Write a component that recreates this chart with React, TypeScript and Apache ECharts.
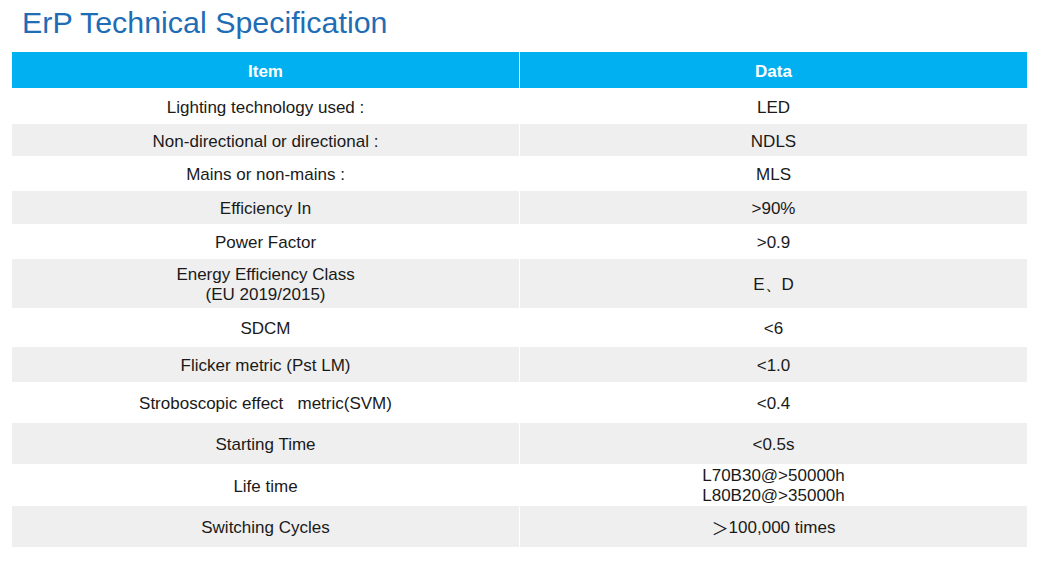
import React, { useEffect, useRef } from "react";
import * as echarts from "echarts";

// ---- data ----
const titleText = "ErP Technical Specification";
const headers = ["Item", "Data"];
const items = [
  "Lighting technology used :",
  "Non-directional or directional :",
  "Mains or non-mains :",
  "Efficiency In",
  "Power Factor",
  "Energy Efficiency Class\n(EU 2019/2015)",
  "SDCM",
  "Flicker metric (Pst LM)",
  "Stroboscopic effect   metric(SVM)",
  "Starting Time",
  "Life time",
  "Switching Cycles",
];
const values = [
  "LED",
  "NDLS",
  "MLS",
  ">90%",
  ">0.9",
  "E、D",
  "<6",
  "<1.0",
  "<0.4",
  "<0.5s",
  "L70B30@>50000h\nL80B20@>35000h",
  "＞100,000 times",
];

// ---- layout ----
const tableLeft = 12;
const tableRight = 1027;
const colSplit = 519;
const headerTop = 52;
const headerHeight = 36;
const rowHeights = [36, 32, 35, 33, 35, 49, 39, 35, 41, 41, 42, 41];
const headerColor = "#00b0f0";
const stripeColor = "#efefef";
const textColor = "#1a1a1a";
const fontFamily = "'Liberation Sans', Arial, sans-serif";
const cjkFamily = "'Noto Sans CJK SC', sans-serif";

export default function App() {
  const ref = useRef<HTMLDivElement>(null);
  useEffect(() => {
    document.body.style.margin = "0";
    if (!ref.current) return;
    const chart = echarts.init(ref.current, undefined, { renderer: "svg" });
    const elements: any[] = [];
    const leftCenter = (tableLeft + colSplit) / 2;
    const rightCenter = (colSplit + 1 + tableRight) / 2;

    // title
    elements.push({
      type: "text",
      x: 22,
      y: 22,
      style: {
        text: titleText,
        fill: "#1f6db5",
        font: `30.4px ${fontFamily}`,
        align: "left",
        verticalAlign: "middle",
      },
    });

    // header
    elements.push({
      type: "rect",
      shape: { x: tableLeft, y: headerTop, width: colSplit - tableLeft, height: headerHeight },
      style: { fill: headerColor },
    });
    elements.push({
      type: "rect",
      shape: { x: colSplit + 1, y: headerTop, width: tableRight - colSplit - 1, height: headerHeight },
      style: { fill: headerColor },
    });
    [leftCenter, rightCenter].forEach((cx, i) => {
      elements.push({
        type: "text",
        x: cx,
        y: headerTop + headerHeight / 2 + 1,
        style: {
          text: headers[i],
          fill: "#ffffff",
          font: `bold 17px ${fontFamily}`,
          align: "center",
          verticalAlign: "middle",
        },
      });
    });

    const toRich = (t: string) =>
      t.startsWith("＞") ? "{g|＞}" + t.slice(1) : t;

    let y = headerTop + headerHeight;
    items.forEach((item, i) => {
      const h = rowHeights[i];
      if (i % 2 === 1) {
        elements.push({
          type: "rect",
          shape: { x: tableLeft, y, width: colSplit - tableLeft, height: h },
          style: { fill: stripeColor },
        });
        elements.push({
          type: "rect",
          shape: { x: colSplit + 1, y, width: tableRight - colSplit - 1, height: h },
          style: { fill: stripeColor },
        });
      }
      const cy = y + h / 2 + 1;
      [item, values[i]].forEach((t, j) => {
        elements.push({
          type: "text",
          x: j === 0 ? leftCenter : rightCenter,
          y: t.includes("\n") ? cy - 0.5 : cy,
          style: {
            text: toRich(t),
            fill: textColor,
            font: `17px ${fontFamily}`,
            lineHeight: 20,
            align: "center",
            verticalAlign: "middle",
            rich: {
              g: {
                fontFamily: cjkFamily,
                fontSize: 17,
                fill: textColor,
                lineHeight: 20,
              },
            },
          },
        });
      });
      y += h;
    });

    chart.setOption({
      animation: false,
      backgroundColor: "#ffffff",
      graphic: { elements },
    });
    return () => chart.dispose();
  }, []);
  return <div ref={ref} style={{ width: 1047, height: 570 }} />;
}
